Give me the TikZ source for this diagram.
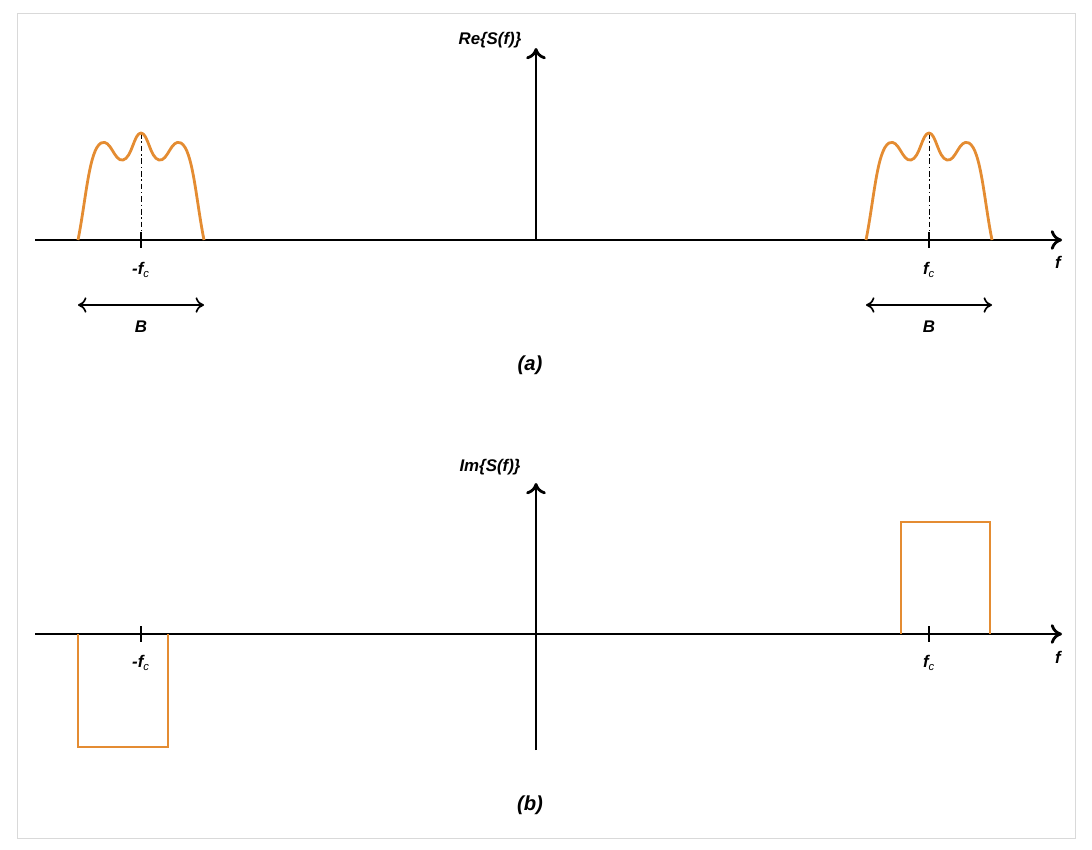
\documentclass[tikz,border=0pt]{standalone}
\usepackage{fontspec}
\setmainfont{Liberation Sans}
\usetikzlibrary{arrows.meta}
\begin{document}
\begin{tikzpicture}[x=0.025cm,y=-0.025cm,
  axx/.style={line width=2pt,-{To[length=8pt,width=14pt]}},
  sig/.style={draw={rgb,255:red,228;green,140;blue,50},line width=2pt},
  lab/.style={font=\bfseries\itshape\large},
  tk/.style={line width=2pt}]
\useasboundingbox (0,0) rectangle (1092,849);
\draw[gray!30] (17,13) rectangle (1075,838);
% (a)
\coordinate (a0) at (35,240); \coordinate (a1) at (1062,240);
\coordinate (v0) at (536,240); \coordinate (v1) at (536,48);
\draw[axx] (a0) -- (a1);
\draw[axx] (v0) -- (v1);
\node[lab] (re) at (490,40) {Re\{S(f)\}};
\node[lab] (fa) at (1058,262) {f};
\foreach \c/\n in {141/L,929/R}{
  \draw[tk] (\c,232) -- (\c,248);
  \draw[dash pattern=on 4pt off 2pt on 1pt off 2pt] (\c,133) -- (\c,240);
  \draw[sig,line join=round] (\c-63,240) .. controls (\c-55,200) and (\c-52,150) .. (\c-40,143)
    .. controls (\c-30,138) and (\c-27,162) .. (\c-18,160)
    .. controls (\c-9,158) and (\c-7,133) .. (\c,133)
    .. controls (\c+7,133) and (\c+9,158) .. (\c+18,160)
    .. controls (\c+27,162) and (\c+30,138) .. (\c+40,143)
    .. controls (\c+52,150) and (\c+55,200) .. (\c+63,240);
  \coordinate (bl\n) at (\c-63,305); \coordinate (br\n) at (\c+63,305);
  \draw[line width=1.2pt,{To[length=6pt,width=11pt]}-{To[length=6pt,width=11pt]}] (bl\n) -- (br\n);
  \node[lab] (b\n) at (\c,327) {B};
}
\node[lab] (fcl) at (141,270) {-f$_{\mathbf{\mathit c}}$};
\node[lab] (fcr) at (929,270) {f$_{\mathbf{\mathit c}}$};
\node[lab,font=\bfseries\itshape\Large] (pa) at (530,365) {(a)};
% (b)
\coordinate (c0) at (35,634); \coordinate (c1) at (1062,634);
\coordinate (w0) at (536,750); \coordinate (w1) at (536,483);
\draw[axx] (c0) -- (c1);
\draw[axx] (w0) -- (w1);
\node[lab] (im) at (490,467) {Im\{S(f)\}};
\node[lab] (fb) at (1058,657) {f};
\draw[tk] (141,626) -- (141,642);
\draw[tk] (929,626) -- (929,642);
\draw[sig] (78,634) -- (78,747) -- (168,747) -- (168,634);
\draw[sig] (901,634) -- (901,522) -- (990,522) -- (990,634);
\node[lab] (gcl) at (141,663) {-f$_{\mathbf{\mathit c}}$};
\node[lab] (gcr) at (929,663) {f$_{\mathbf{\mathit c}}$};
\node[lab,font=\bfseries\itshape\Large] (pb) at (530,805) {(b)};
\end{tikzpicture}
\end{document}
